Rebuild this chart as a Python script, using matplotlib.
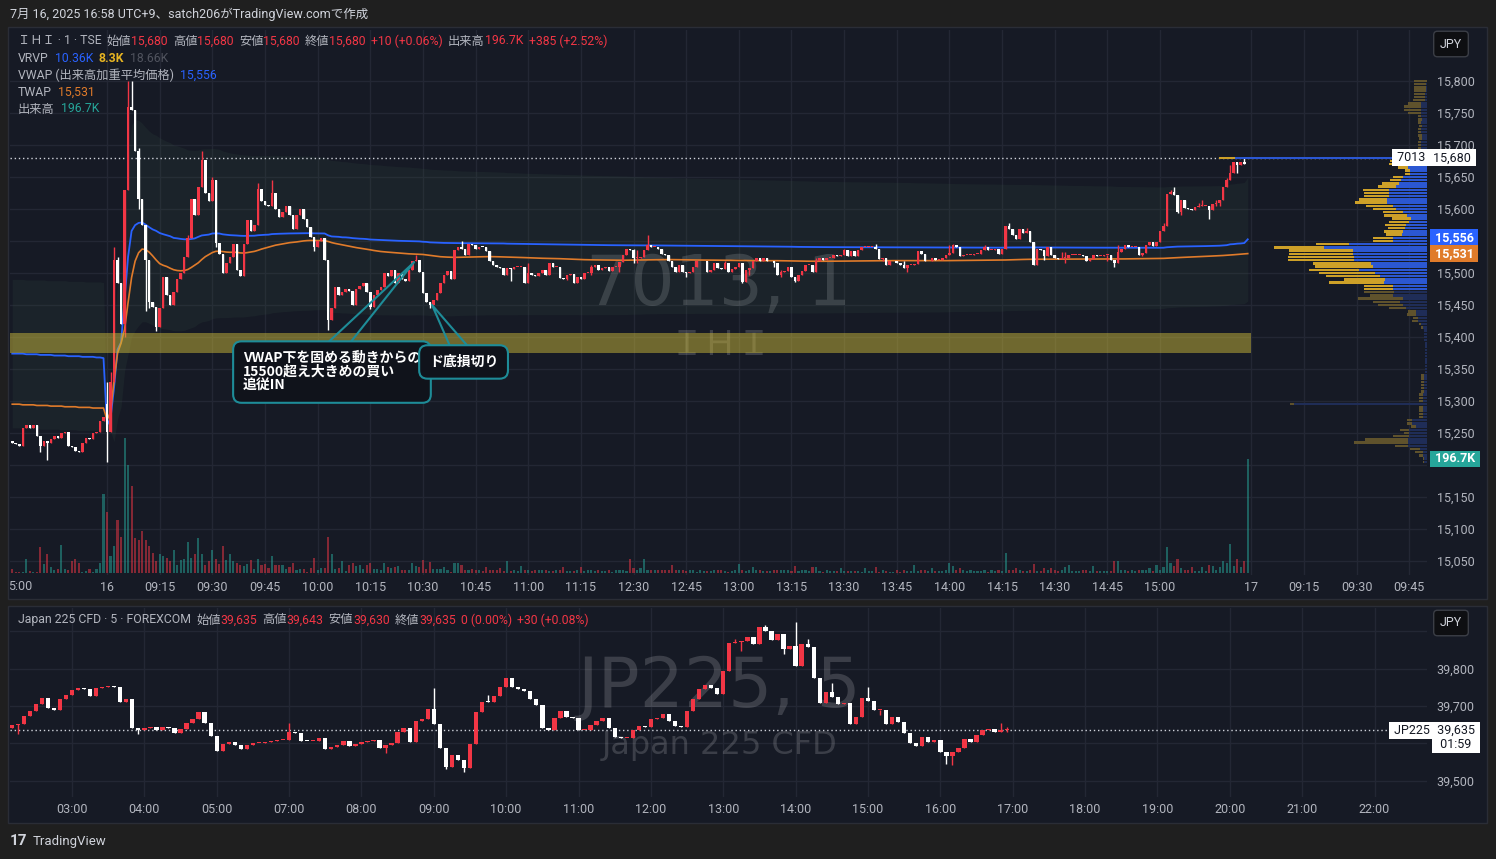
import numpy as np
import matplotlib
matplotlib.use('Agg')
import matplotlib.pyplot as plt
import matplotlib.transforms as mtransforms
from matplotlib.colors import to_rgba
from matplotlib.patches import Rectangle
from matplotlib import font_manager

plt.rcParams['font.family'] = ['Roboto', 'Noto Sans CJK JP', 'DejaVu Sans']

W, H = 1496, 859

# ---------------- IHI 1-minute (previous day tail + 16 July session) ----------------
prev_close = [15235, 15233, 15230, 15258, 15262, 15258, 15262, 15245, 15230, 15238,
              15235, 15240, 15245, 15242, 15250, 15252, 15230, 15228, 15222, 15220,
              15235, 15242, 15240, 15250, 15252, 15268, 15275]
prev_vol = [7, 1, 1, 1, 24, 3, 2, 2, 45, 16, 33, 10, 5, 7, 48, 7, 5, 20, 24, 17,
            1, 3, 7, 1, 7, 18, 136]
prev_vwap = [15374, 15374, 15374, 15374, 15373, 15373, 15373, 15373, 15372, 15372,
             15372, 15372, 15371, 15371, 15371, 15371, 15370, 15370, 15370, 15370,
             15369, 15369, 15369, 15369, 15368, 15368, 15367]
prev_twap = [15295, 15295, 15295, 15294, 15294, 15294, 15294, 15293, 15293, 15293,
             15293, 15292, 15292, 15292, 15292, 15291, 15291, 15291, 15291, 15290,
             15290, 15290, 15290, 15289, 15289, 15289, 15289]
prev_band_hi = [15490, 15490, 15490, 15490, 15489, 15489, 15489, 15489, 15489, 15489,
                15488, 15488, 15488, 15488, 15488, 15488, 15487, 15487, 15487, 15487,
                15487, 15486, 15486, 15486, 15486, 15486, 15485]
prev_band_lo = [15258, 15258, 15258, 15257, 15257, 15257, 15257, 15257, 15256, 15256,
                15256, 15256, 15256, 15256, 15255, 15255, 15255, 15255, 15255, 15254,
                15254, 15254, 15254, 15254, 15253, 15253, 15253]

today_close = [
    15252, 15330, 15520, 15485, 15420, 15630, 15760, 15755, 15690, 15615,
    15575, 15520, 15455, 15447, 15415, 15445, 15494, 15465, 15450, 15470,
    15490, 15500, 15525, 15555, 15615, 15590, 15635, 15677, 15625, 15613,
    15645, 15547, 15530, 15500, 15515, 15525, 15545, 15505, 15495, 15545,
    15583, 15565, 15575, 15632, 15612, 15607, 15605, 15625, 15600, 15588,
    15595, 15605, 15590, 15568, 15590, 15600, 15585, 15572, 15557, 15541,
    15550, 15555, 15520, 15427, 15445, 15478, 15465, 15470, 15475, 15472,
    15450, 15475, 15480, 15485, 15470, 15447, 15465, 15473, 15478, 15500,
    15495, 15505, 15484, 15500, 15490, 15488, 15505, 15518, 15520, 15502,
    15468, 15455, 15450, 15458, 15468, 15484, 15497, 15503, 15490, 15536,
    15540, 15538, 15528, 15545, 15543, 15537, 15541, 15540, 15535, 15518,
    15512, 15510, 15508, 15497, 15508, 15507, 15510, 15510, 15510, 15484,
    15500, 15497, 15495, 15500, 15505, 15497, 15515, 15510, 15510, 15492,
    15490, 15497, 15498, 15484, 15494, 15490, 15500, 15500, 15510, 15512,
    15505, 15508, 15510, 15503, 15510, 15510, 15517, 15528, 15538, 15536,
    15523, 15523, 15525, 15536, 15543, 15540, 15540, 15537, 15530, 15528,
    15518, 15510, 15502, 15512, 15502, 15500, 15502, 15510, 15518, 15518,
    15519, 15502, 15505, 15515, 15508, 15506, 15515, 15502, 15506, 15510,
    15515, 15486, 15505, 15508, 15518, 15523, 15518, 15523, 15518, 15519,
    15515, 15497, 15502, 15503, 15510, 15493, 15488, 15497, 15503, 15512,
    15513, 15502, 15518, 15523, 15520, 15523, 15523, 15528, 15527, 15528,
    15536, 15527, 15534, 15527, 15536, 15540, 15540, 15541, 15541, 15538,
    15522, 15523, 15513, 15518, 15518, 15516, 15513, 15508, 15512, 15512,
    15514, 15534, 15529, 15518, 15518, 15523, 15521, 15521, 15523, 15528,
    15532, 15544, 15540, 15527, 15528, 15528, 15528, 15529, 15530, 15536,
    15540, 15536, 15536, 15538, 15530, 15538, 15573, 15568, 15560, 15553,
    15568, 15563, 15566, 15548, 15512, 15538, 15536, 15527, 15540, 15528,
    15523, 15522, 15523, 15524, 15528, 15528, 15528, 15528, 15526, 15518,
    15522, 15528, 15526, 15526, 15528, 15528, 15520, 15515, 15533, 15538,
    15543, 15540, 15540, 15540, 15528, 15532, 15544, 15548, 15542, 15549,
    15565, 15574, 15624, 15627, 15622, 15596, 15614, 15601, 15600, 15598,
    15603, 15604, 15604, 15604, 15598, 15608, 15610, 15614, 15635, 15645,
    15656, 15674, 15668, 15674, 15670, 15680]

today_vol = [
    106, 30, 46, 92, 62, 233, 187, 150, 60, 57, 73, 57, 47, 35, 20, 33, 29, 26, 20, 39,
    13, 22, 25, 53, 26, 32, 60, 33, 13, 20, 39, 25, 16, 46, 22, 32, 20, 17, 13, 12,
    16, 22, 7, 24, 13, 15, 9, 29, 13, 13, 14, 7, 10, 17, 5, 7, 7, 2, 9, 26,
    5, 9, 9, 62,
    33, 7, 9, 20, 3, 13, 18, 12, 13, 7, 13, 17, 7, 7, 6, 18, 10, 9, 10, 12,
    6, 6, 5, 18, 12, 10, 22, 7, 19, 7, 7, 7, 10, 6, 2, 18, 17, 14, 6, 6, 7, 6,
    5, 4, 10, 5, 6, 5, 8, 4, 20, 4, 5, 4, 12, 6, 5, 4, 5, 6, 5, 6,
    4, 4, 6, 5, 10, 4, 4, 4, 5, 10, 4, 6, 5, 4, 6, 4, 4, 6, 1, 5,
    6, 6, 4, 24, 8, 5, 8, 24, 6, 5, 6, 6, 6, 6, 5, 13, 5, 6, 5, 4,
    6, 5, 1, 6, 4, 4, 4, 5, 5, 6, 4, 1, 4, 6, 16, 5, 4, 5, 10, 5,
    6, 4, 4, 4, 6, 5, 5, 5, 5, 4, 12, 4, 5, 5, 4, 10, 10, 4, 1, 6,
    4, 4, 4, 8, 4, 4, 4, 4, 4, 1, 8, 4, 4, 10, 1, 5, 4, 1, 1, 5,
    1, 6, 4, 4, 13, 4, 5, 5, 4, 8, 4, 4, 4, 6, 17, 12, 5, 8, 5, 4,
    5, 4, 4, 4, 5, 1, 5, 4, 6, 4, 34, 6, 6, 8, 5, 4, 4, 6, 15, 4,
    4, 8, 5, 8, 5, 4, 6, 10, 13, 4, 4, 4, 6, 6, 4, 12, 4, 4, 4, 4,
    4, 20, 20, 6, 6, 4, 6, 4, 5, 6, 6, 8, 4, 13, 6, 10, 44, 18, 12, 24,
    8, 6, 5, 10, 4, 4, 10, 4, 13, 12, 6, 10, 20, 17, 50, 12, 25, 10, 20, 196.7]

open_fix = {-27: 15238, 0: 15295, 325: 15680}
hi_wick = {0: 15330, 1: 15345, 2: 15540, 3: 15525, 6: 15800, 7: 15800, 9: 15695,
           23: 15560, 27: 15690, 30: 15650, 43: 15640, 47: 15645, 88: 15528, 101: 15550,
           120: 15515, 138: 15513, 150: 15538, 151: 15536, 154: 15560, 168: 15521,
           176: 15518, 192: 15505, 202: 15523, 210: 15538, 219: 15545, 227: 15518,
           232: 15533, 240: 15544, 241: 15545, 250: 15544, 257: 15578, 262: 15570,
           272: 15533, 273: 15533, 288: 15543, 297: 15549, 301: 15578, 303: 15630,
           304: 15635, 311: 15609, 312: 15614, 316: 15614, 319: 15648, 320: 15669,
           324: 15680}
lo_wick = {-19: 15220, -17: 15208, 0: 15205, 5: 15400, 9: 15600, 11: 15440, 12: 15445,
           14: 15410, 31: 15540, 59: 15535, 63: 15411, 75: 15443, 92: 15445, 115: 15487,
           120: 15486, 131: 15489, 138: 15497, 146: 15502, 150: 15515, 151: 15515,
           165: 15494, 181: 15484, 183: 15497, 190: 15510, 192: 15493, 196: 15486,
           221: 15518, 228: 15502, 267: 15520, 273: 15515, 285: 15518, 287: 15510,
           295: 15526, 305: 15593, 306: 15590, 314: 15585, 316: 15604, 317: 15604,
           322: 15656}

ihi_ticks = [0, 15, 30, 45, 60, 75, 90, 105, 120, 135, 150, 165, 180, 195, 210, 225,
             240, 255, 270, 285, 300, 326, 341, 356, 371]
ihi_tick_labels = ['16', '09:15', '09:30', '09:45', '10:00', '10:15', '10:30', '10:45',
                   '11:00', '11:15', '12:30', '12:45', '13:00', '13:15', '13:30', '13:45',
                   '14:00', '14:15', '14:30', '14:45', '15:00', '17', '09:15', '09:30',
                   '09:45']
ihi_price_ticks = list(range(15050, 15801, 50))
ihi_hidden_labels = [15200, 15550]   # covered by the price-scale badges

# volume profile (visible range), rows of 5 yen from 15,800 downwards
vp_top, vp_step = 15800, 5
vp_up = [0, 1, 1, 1, 2, 2, 2, 6, 6, 6, 6, 6, 5, 6, 5, 6, 6, 5, 5, 6,
         6, 6, 6, 5, 192, 19, 19, 19, 17, 17, 24, 26, 28, 31, 38, 38, 38, 40, 40, 34,
         31, 24, 20, 16, 18, 21, 22, 24, 25, 34, 34, 78, 103, 74, 74, 73, 73, 56, 54, 68,
         52, 47, 42, 43, 34, 34, 33, 34, 24, 27, 24, 21, 11, 11, 9, 9, 6, 4, 3, 3,
         3, 3, 2, 2, 2, 2, 2, 2, 2, 2, 2, 2, 3, 3, 3, 3, 3, 3, 4, 4,
         4, 133, 4, 4, 4, 4, 15, 15, 11, 18, 18, 18, 19, 19, 19, 7, 4, 4, 3, 3]
vp_dn = [13, 12, 12, 12, 11, 11, 12, 13, 17, 17, 13, 3, 4, 3, 3, 3, 3, 4, 3, 3,
         3, 3, 4, 3, 16, 18, 19, 10, 5, 5, 10, 11, 17, 18, 26, 25, 25, 28, 32, 27,
         23, 20, 23, 19, 20, 21, 17, 19, 16, 20, 20, 33, 50, 64, 64, 66, 66, 58, 58, 50,
         56, 54, 41, 55, 29, 29, 30, 23, 45, 27, 25, 17, 8, 9, 5, 6, 2, 2, 0, 0,
         0, 0, 0, 0, 0, 0, 0, 0, 0, 0, 0, 0, 3, 3, 3, 3, 3, 3, 4, 4,
         4, 4, 4, 4, 4, 4, 5, 5, 5, 9, 5, 16, 43, 54, 13, 10, 8, 4, 1, 1]
value_area = (15475, 15680)

zone = (15375, 15406)       # drawn rectangle
zone_end = 326
last_price, last_vwap, last_twap, last_vol = 15680, 15556, 15531, 196.7

# ---------------- Japan 225 CFD 5-minute ----------------
jp_close = [
    39648, 39652, 39673, 39686, 39706, 39722, 39694, 39688, 39718, 39729,
    39742, 39749, 39745, 39726, 39749, 39752, 39753, 39750, 39711, 39718,
    39642, 39635, 39640, 39643, 39636, 39645, 39640, 39628, 39638, 39655,
    39665, 39685, 39655, 39620, 39580, 39598, 39603, 39595, 39584, 39596,
    39600, 39601, 39603, 39605, 39608, 39610, 39629, 39627, 39606, 39605,
    39607, 39613, 39584, 39590, 39596, 39606, 39593, 39598, 39604, 39607,
    39609, 39588, 39596, 39600, 39629, 39642, 39604, 39659, 39664, 39691,
    39651, 39588, 39536, 39570, 39555, 39535, 39597, 39685, 39711, 39710,
    39727, 39751, 39776, 39751, 39745, 39741, 39720, 39702, 39642, 39637,
    39669, 39686, 39670, 39668, 39637, 39637, 39650, 39660, 39669, 39642,
    39617, 39615, 39615, 39635, 39646, 39645, 39664, 39667, 39678, 39660,
    39646, 39644, 39686, 39718, 39746, 39756, 39748, 39731, 39795, 39870,
    39872, 39875, 39885, 39865, 39911, 39901, 39876, 39892, 39852, 39860,
    39807, 39865, 39858, 39776, 39709, 39738, 39723, 39704, 39708, 39652,
    39670, 39722, 39713, 39688, 39688, 39651, 39671, 39658, 39628, 39600,
    39593, 39617, 39604, 39610, 39578, 39566, 39578, 39588, 39611, 39604,
    39622, 39635, 39638, 39630, 39637, 39635]
jp_first = -10
jp_open_fix = {-10: 39640, 155: 39635}
jp_hi_wick = {36: 39655, 60: 39749, 69: 39730, 110: 39880, 115: 39918, 120: 39925,
              122: 39880, 126: 39762, 132: 39751, 154: 39655, 155: 39643}
jp_lo_wick = {-9: 39625, 11: 39625, 52: 39573, 62: 39530, 65: 39522, 111: 39848,
              118: 39840, 134: 39677, 145: 39545, 146: 39542, 155: 39630}
jp_ticks = [0, 12, 24, 36, 48, 60, 72, 84, 96, 108, 120, 132, 144, 156, 168, 180, 192, 204, 216]
jp_tick_labels = ['03:00', '04:00', '05:00', '07:00', '08:00', '09:00', '10:00', '11:00',
                  '12:00', '13:00', '14:00', '15:00', '16:00', '17:00', '18:00', '19:00',
                  '20:00', '21:00', '22:00']
jp_price_ticks = [39500, 39600, 39700, 39800, 39900]
jp_hidden_labels = [39600, 39900]
jp_last = 39635

# ---------------- colours ----------------
BG = '#161a25'
GRID = '#232734'
TXT = '#b2b5be'
UP = '#f23645'
DN = '#ffffff'
BLUE = '#2962ff'
ORANGE = '#e07b2a'
TEAL = '#26a69a'
CALLOUT = '#1e8c98'


def build(closes, first, opens_fix, his, los):
    c = np.array(closes, dtype=float)
    x = np.arange(first, first + len(c))
    o = np.r_[c[0], c[:-1]]
    for b, v in opens_fix.items():
        o[b - first] = v
    h = np.maximum(o, c)
    l = np.minimum(o, c)
    for b, v in his.items():
        h[b - first] = max(h[b - first], v)
    for b, v in los.items():
        l[b - first] = min(l[b - first], v)
    return x, o, h, l, c


def candles(a, x, o, h, l, c, width, min_body):
    up = c >= o
    col = np.where(up, UP, DN)
    a.vlines(x, l, h, colors=col, lw=1, zorder=4)
    a.bar(x, np.maximum(np.abs(c - o), min_body), bottom=np.minimum(o, c),
          width=width, color=col, lw=0, zorder=5)
    return up


def frac(l, t, r, b):
    return [l / W, 1 - b / H, (r - l) / W, (b - t) / H]


def ftext(x, y, s, **kw):
    return fig.text(x / W, 1 - y / H, s, **kw)


def seq(x, y, parts, size=8.8):
    r = fig.canvas.get_renderer()
    for p in parts:
        s, col, gap = p[:3]
        wt = p[3] if len(p) > 3 else 'normal'
        t = ftext(x, y, s, color=col, fontsize=size, va='center', ha='left', fontweight=wt)
        x += t.get_window_extent(r).width + gap


def style_axes(a, xt, xl, yt, hidden):
    a.set_facecolor('none')
    for s in a.spines.values():
        s.set_visible(False)
    a.set_xticks(xt)
    a.set_xticklabels(xl)
    a.set_yticks(yt)
    a.set_yticklabels(['' if v in hidden else f'{v:,}' for v in yt])
    a.yaxis.tick_right()
    a.tick_params(axis='both', length=0, labelsize=9, labelcolor=TXT)
    a.tick_params(axis='x', pad=4.5)
    a.tick_params(axis='y', pad=7)
    a.grid(True, color=GRID, lw=1)
    a.set_axisbelow(True)


names = {f.name for f in font_manager.fontManager.ttflist}
narrow = 'Liberation Sans Narrow' in names
WM_FONT = 'Liberation Sans Narrow' if narrow else 'DejaVu Sans'
WM_BIG = 71 if narrow else 50
WM_SMALL = 32 if narrow else 23

fig = plt.figure(figsize=(W / 100, H / 100), dpi=100)
fig.patch.set_facecolor('#1f1f1f')
for (l, t, r, b) in [(8, 27, 1487, 599), (8, 606, 1487, 823)]:
    fig.add_artist(Rectangle((l / W, 1 - b / H), (r - l) / W, (b - t) / H,
                             transform=fig.transFigure, fc=BG, ec='#2a2d36', lw=1, zorder=-10))

# ================= upper panel =================
ax = fig.add_axes(frac(10, 30, 1427, 575))
axv = fig.add_axes(frac(10, 30, 1427, 575), sharex=ax)
axv.axis('off')
axp = fig.add_axes(frac(1127, 30, 1427.5, 575))
axp.axis('off')

style_axes(ax, ihi_ticks, ihi_tick_labels, ihi_price_ticks, ihi_hidden_labels)

x, o, h, l, c = build(prev_close + today_close, -len(prev_close), open_fix, hi_wick, lo_wick)
vol = np.array(prev_vol + today_vol, dtype=float)
n_prev = len(prev_close)

# session VWAP / stdev band / TWAP from the candles
tp = (h + l + c)[n_prev:] / 3
v = vol[n_prev:]
cv = np.cumsum(v)
vw = np.cumsum(tp * v) / cv
sd = np.sqrt(np.maximum(np.cumsum(tp * tp * v) / cv - vw ** 2, 0))
ohlc4 = (o + h + l + c)[n_prev:] / 4
tw = np.cumsum(ohlc4) / np.arange(1, len(ohlc4) + 1)

ax.fill_between(x, np.r_[prev_band_lo, vw - sd], np.r_[prev_band_hi, vw + sd],
                color='#3a5a48', alpha=0.15, lw=0, zorder=1)
ax.plot(x, np.r_[prev_vwap, vw], color=BLUE, lw=1.3, zorder=3)
ax.plot(x, np.r_[prev_twap, tw], color=ORANGE, lw=1.2, zorder=3)

ax.text(0.5004, 0.532, '7013, 1', transform=ax.transAxes, ha='center', va='center',
        fontsize=WM_BIG, family=WM_FONT, color=(1, 1, 1, 0.16), zorder=0.6)
ax.text(0.5011, 0.422, 'ＩＨＩ', transform=ax.transAxes, ha='center', va='center',
        fontsize=24.5, family=['Noto Sans CJK JP'], color=(1, 1, 1, 0.16), zorder=0.6)

# volume bars on their own scale
tv = mtransforms.blended_transform_factory(ax.transData, axv.transData)
up = c >= o
vcol = [to_rgba(TEAL, 0.5) if u else to_rgba(UP, 0.5) for u in up]
ax.bar(x, vol, width=0.6, bottom=0, color=vcol, lw=0, transform=tv, zorder=2)

candles(ax, x, o, h, l, c, 0.72, 1.5)

ax.axhline(last_price, color='#d1d4dc', lw=1, ls=(0, (1, 2)), zorder=3)
ax.fill_between([-40, zone_end], zone[0], zone[1], color='#c9b73a', alpha=0.5, lw=0, zorder=6)

callout_box = dict(boxstyle='round,pad=0.7,rounding_size=0.6', fc='#10131b', ec=CALLOUT, lw=1.5)
jp_bold = ['Noto Sans CJK JP', 'DejaVu Sans']
ax.annotate('VWAP下を固める動きからの\n15500超え大きめの買い\n追従IN',
            xy=(87.5, 15517), xytext=(38.7, 15378), ha='left', va='top',
            color='white', fontsize=10, fontweight='bold', linespacing=1.0, family=jp_bold,
            bbox=callout_box, zorder=10, annotation_clip=False,
            arrowprops=dict(arrowstyle='wedge,tail_width=1.3,shrink_factor=0.5', fc='none',
                            ec=CALLOUT, lw=1.5, relpos=(0.5, 1.0), patchA=None,
                            shrinkA=0, shrinkB=0))
ax.annotate('ド底損切り', xy=(92.6, 15450), xytext=(91.7, 15361), ha='left', va='center',
            color='white', fontsize=10, fontweight='bold', family=jp_bold,
            bbox=callout_box, zorder=10, annotation_clip=False,
            arrowprops=dict(arrowstyle='wedge,tail_width=1.3,shrink_factor=0.5', fc='none',
                            ec=CALLOUT, lw=1.5, relpos=(0.5, 1.0), patchA=None,
                            shrinkA=0, shrinkB=0))

ax.set_xlim(-27.64, 376.07)
ax.set_ylim(15028.1, 15879.7)
axv.set_ylim(-3.45, 936.7)

# visible range volume profile
vp_price = vp_top - vp_step * np.arange(len(vp_up))
vp_up_a = np.array(vp_up, dtype=float)
vp_tot = vp_up_a + np.array(vp_dn, dtype=float)
inside = (vp_price >= value_area[0]) & (vp_price <= value_area[1])
axp.barh(vp_price, vp_tot, height=vp_step * 0.8,
         color=np.where(inside, '#cda028', '#5f522c'), lw=0)
axp.barh(vp_price, vp_up_a, height=vp_step * 0.8,
         color=np.where(inside, '#2b57d2', '#1f2d57'), lw=0)
axp.set_xlim(300, 0)
axp.set_ylim(ax.get_ylim())

# ================= lower panel =================
ax2 = fig.add_axes(frac(10, 608, 1427, 797))
style_axes(ax2, jp_ticks, jp_tick_labels, jp_price_ticks, jp_hidden_labels)
x2, o2, h2, l2, c2 = build(jp_close, jp_first, jp_open_fix, jp_hi_wick, jp_lo_wick)
candles(ax2, x2, o2, h2, l2, c2, 0.72, 2.7)
ax2.axhline(jp_last, color='#d1d4dc', lw=1, ls=(0, (1, 2)), zorder=3)
ax2.text(0.5004, 0.58, 'JP225, 5', transform=ax2.transAxes, ha='center', va='center',
         fontsize=WM_BIG, family=WM_FONT, color=(1, 1, 1, 0.16), zorder=0.6)
ax2.text(0.5004, 0.27, 'Japan 225 CFD', transform=ax2.transAxes, ha='center', va='center',
         fontsize=WM_SMALL, family=WM_FONT, color=(1, 1, 1, 0.16), zorder=0.6)
ax2.set_xlim(-10.28, 224.7)
ax2.set_ylim(39456.2, 39962.5)


# ================= price-scale labels =================
def ylab(a, value, xc, s, fc, tc, bold=False, dy=0):
    yd = a.transData.transform((0, value))[1] - dy
    fig.text(xc / W, yd / H, s, ha='center', va='center', fontsize=9, color=tc,
             fontweight='bold' if bold else 'normal', zorder=20, linespacing=1.1,
             bbox=dict(boxstyle='square,pad=0.15', fc=fc, ec='none'))


ylab(ax, last_price, 1411, ' 7013 ', 'white', '#131722')
ylab(ax, last_price, 1452.5, f' {last_price:,} ', 'white', '#131722')
ylab(ax, last_vwap, 1454, f' {last_vwap:,} ', BLUE, 'white', True)
ylab(ax, last_twap, 1454, f' {last_twap:,} ', ORANGE, 'white', True)
ylab(axv, last_vol, 1455, f' {last_vol}K ', TEAL, 'white', True)
ylab(ax2, jp_last, 1412, ' JP225 ', 'white', '#131722')
ylab(ax2, jp_last, 1456, f' {jp_last:,} \n 01:59 ', 'white', '#131722', dy=7)

for yb in (44, 623):
    ftext(1451, yb, 'JPY', ha='center', va='center', fontsize=9, color='#d1d4dc', zorder=20,
          bbox=dict(boxstyle='round,pad=0.5,rounding_size=0.3', fc='#0e0f12', ec='#3b3e46', lw=1))

ftext(8, 587, '5:00', ha='left', va='center', fontsize=9, color=TXT)

# ================= header / legends =================
ftext(10, 14, '7月 16, 2025 16:58 UTC+9、satch206がTradingView.comで作成',
      ha='left', va='center', fontsize=9, color='#d1d4dc')
ftext(10, 841, '17', ha='left', va='center', fontsize=11, fontweight='bold', color='#d1d4dc')
ftext(33, 841, 'TradingView', ha='left', va='center', fontsize=9.5, color='#d1d4dc')

seq(18, 41, [('ＩＨＩ · 1 · TSE', TXT, 5), ('始値', TXT, 0), ('15,680', UP, 5),
             ('高値', TXT, 0), ('15,680', UP, 5), ('安値', TXT, 0), ('15,680', UP, 5),
             ('終値', TXT, 0), ('15,680', UP, 5), ('+10 (+0.06%)', UP, 5),
             ('出来高', TXT, 0), ('196.7K', UP, 6), ('+385 (+2.52%)', UP, 0)])
seq(18, 58, [('VRVP', TXT, 6), ('10.36K', BLUE, 5), ('8.3K', '#e6b422', 6, 'bold'),
             ('18.66K', '#50535e', 0)])
seq(18, 75, [('VWAP (出来高加重平均価格)', TXT, 6), (f'{last_vwap:,}', BLUE, 0)])
seq(18, 92, [('TWAP', TXT, 6), (f'{last_twap:,}', ORANGE, 0)])
seq(18, 109, [('出来高', TXT, 6), (f'{last_vol}K', TEAL, 0)])
seq(18, 620, [('Japan 225 CFD · 5 · FOREXCOM', TXT, 5), ('始値', TXT, 0), ('39,635', UP, 5),
              ('高値', TXT, 0), ('39,643', UP, 5), ('安値', TXT, 0), ('39,630', UP, 5),
              ('終値', TXT, 0), ('39,635', UP, 5), ('0 (0.00%)', UP, 5),
              ('+30 (+0.08%)', UP, 0)])

fig.savefig('out.png', dpi=100, facecolor=fig.get_facecolor())
